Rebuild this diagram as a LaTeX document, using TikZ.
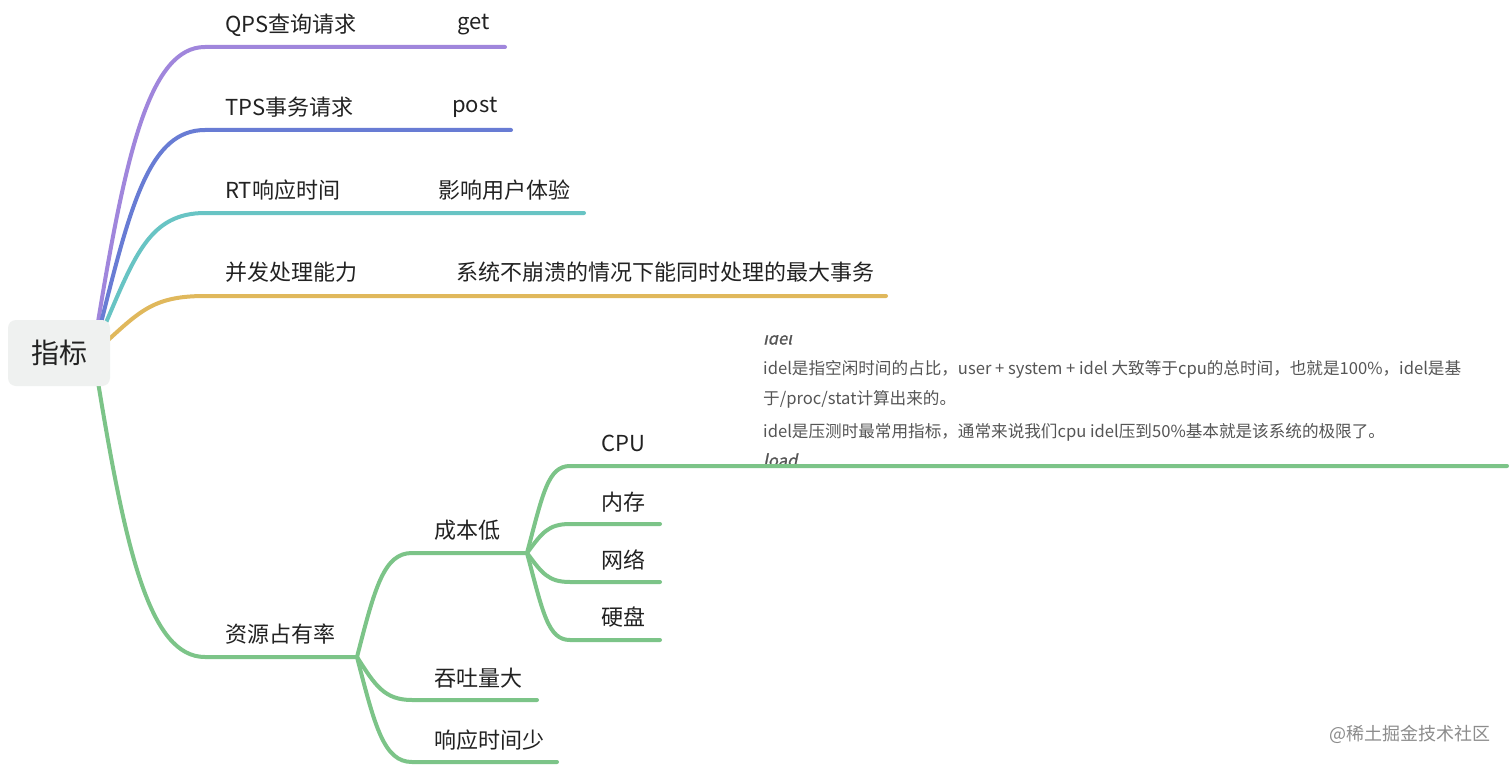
\documentclass[tikz,border=0pt]{standalone}
\usepackage{fontspec}
\setmainfont{Noto Sans CJK SC}
\newfontfamily\slantfont[FakeSlant=0.2,FakeBold=1.2]{Noto Sans CJK SC}
\usetikzlibrary{positioning}

\definecolor{qpscol}{RGB}{160,134,220}
\definecolor{tpscol}{RGB}{104,124,212}
\definecolor{rtcol}{RGB}{104,196,196}
\definecolor{conccol}{RGB}{224,184,92}
\definecolor{rescol}{RGB}{124,196,136}
\definecolor{rootcol}{RGB}{239,241,240}
\definecolor{textcol}{RGB}{34,34,34}
\definecolor{notecol}{RGB}{85,85,85}

\tikzset{
  topic/.style={anchor=west, inner sep=0pt, text=textcol, font=\fontsize{22}{26}\selectfont},
  rootbox/.style={rounded corners=8pt, fill=rootcol, minimum width=102pt, minimum height=66pt,
    inner sep=0pt, text=textcol, font=\fontsize{28}{32}\selectfont},
  branch/.style={line width=4pt, line cap=round},
  note/.style={anchor=west, inner sep=0pt, text=notecol, font=\fontsize{16.6}{19}\selectfont},
}

\begin{document}
\begin{tikzpicture}[x=1pt, y=-1pt]
  \useasboundingbox[fill=white] (0,0) rectangle (1512,765);

  % end points of the branches
  \coordinate (r-qps) at (98,322);
  \coordinate (r-tps) at (101,323);
  \coordinate (r-rt) at (105,325);
  \coordinate (r-conc) at (106,342);
  \coordinate (r-res) at (98,382);
  \coordinate (qps-a) at (205,47);   \coordinate (qps-b) at (505,47);
  \coordinate (tps-a) at (205,130);  \coordinate (tps-b) at (511,130);
  \coordinate (rt-a) at (205,213);   \coordinate (rt-b) at (584,213);
  \coordinate (conc-a) at (205,296); \coordinate (conc-b) at (886,296);
  \coordinate (res-a) at (205,657);  \coordinate (res-b) at (357,657);
  \coordinate (cost-a) at (412,553); \coordinate (cost-b) at (527,553);
  \coordinate (cpu-a) at (570,466);  \coordinate (cpu-b) at (1507,466);
  \coordinate (mem-a) at (570,524);  \coordinate (mem-b) at (660,524);
  \coordinate (net-a) at (570,582);  \coordinate (net-b) at (660,582);
  \coordinate (disk-a) at (570,640); \coordinate (disk-b) at (660,640);
  \coordinate (thru-a) at (412,700); \coordinate (thru-b) at (537,700);
  \coordinate (resp-a) at (412,762); \coordinate (resp-b) at (557,762);

  % first level
  \draw[branch, qpscol] (r-qps) .. controls +(28,-170) and +(-55,0) .. (qps-a) -- (qps-b);
  \draw[branch, tpscol] (r-tps) .. controls +(30,-120) and +(-55,0) .. (tps-a) -- (tps-b);
  \draw[branch, rtcol] (r-rt) .. controls +(30,-70) and +(-55,0) .. (rt-a) -- (rt-b);
  \draw[branch, conccol] (r-conc) .. controls +(35,-32) and +(-50,0) .. (conc-a) -- (conc-b);
  \draw[branch, rescol] (r-res) .. controls +(28,170) and +(-55,0) .. (res-a) -- (res-b);

  % second level
  \draw[branch, rescol] (res-b) .. controls +(18,-70) and +(-28,0) .. (cost-a) -- (cost-b);
  \draw[branch, rescol] (res-b) .. controls +(18,28) and +(-28,0) .. (thru-a) -- (thru-b);
  \draw[branch, rescol] (res-b) .. controls +(18,70) and +(-28,0) .. (resp-a) -- (resp-b);

  % note on CPU
  \begin{scope}
    \clip (750,335) rectangle (1510,463);
    \node[note, font=\fontsize{16.6}{19}\slantfont] (idel-head) at (763,338) {idel};
    \node[note] (idel-1) at (763,369) {idel是指空闲时间的占比，user + system + idel 大致等于cpu的总时间，也就是100\%，idel是基};
    \node[note] (idel-2) at (763,399) {于/proc/stat计算出来的。};
    \node[note] (idel-3) at (763,432) {idel是压测时最常用指标，通常来说我们cpu idel压到50\%基本就是该系统的极限了。};
    \node[note, font=\fontsize{16.6}{19}\slantfont] (load-head) at (763,460) {load};
  \end{scope}

  % third level
  \draw[branch, rescol] (cost-b) .. controls +(16,-60) and +(-22,0) .. (cpu-a) -- (cpu-b);
  \draw[branch, rescol] (cost-b) .. controls +(15,-20) and +(-22,0) .. (mem-a) -- (mem-b);
  \draw[branch, rescol] (cost-b) .. controls +(15,20) and +(-22,0) .. (net-a) -- (net-b);
  \draw[branch, rescol] (cost-b) .. controls +(16,60) and +(-22,0) .. (disk-a) -- (disk-b);

  % root
  \node[rootbox] (root) at (59,353) {指标};

  % labels
  \node[topic] (qps) at (225,25) {QPS查询请求};
  \node[topic] (qps-note) at (457,25) {get};
  \node[topic] (tps) at (225,107) {TPS事务请求};
  \node[topic] (tps-note) at (452,107) {post};
  \node[topic] (rt) at (225,190) {RT响应时间};
  \node[topic] (rt-note) at (438,190) {影响用户体验};
  \node[topic] (conc) at (225,272) {并发处理能力};
  \node[topic] (conc-note) at (456,272) {系统不崩溃的情况下能同时处理的最大事务};
  \node[topic] (res) at (225,634) {资源占有率};
  \node[topic] (cost) at (434,530) {成本低};
  \node[topic] (cpu) at (601,443) {CPU};
  \node[topic] (mem) at (601,502) {内存};
  \node[topic] (net) at (601,560) {网络};
  \node[topic] (disk) at (601,617) {硬盘};
  \node[topic] (thru) at (434,678) {吞吐量大};
  \node[topic] (resp) at (434,740) {响应时间少};

  % watermark
  \node[anchor=east, inner sep=0pt, text=black!45, font=\fontsize{18}{20}\selectfont] (mark) at (1491,734) {@稀土掘金技术社区};
\end{tikzpicture}
\end{document}
